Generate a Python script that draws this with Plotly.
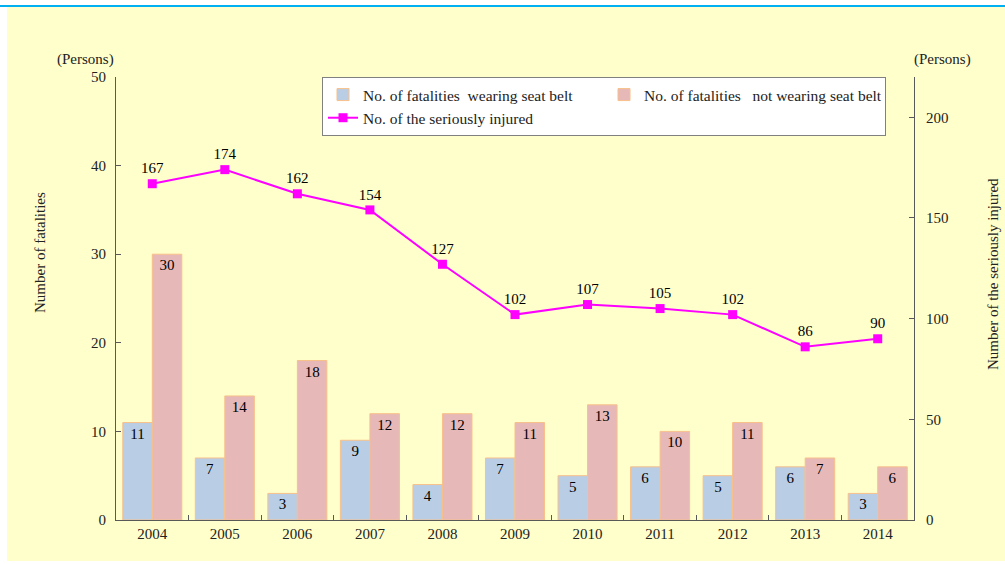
import plotly.graph_objects as go

years = ["2004", "2005", "2006", "2007", "2008", "2009", "2010", "2011", "2012", "2013", "2014"]
wearing = [11, 7, 3, 9, 4, 7, 5, 6, 5, 6, 3]
not_wearing = [30, 14, 18, 12, 12, 11, 13, 10, 11, 7, 6]
injured = [167, 174, 162, 154, 127, 102, 107, 105, 102, 86, 90]

FONT = "Liberation Serif, Times New Roman, serif"
W, H = 1005, 564
L, R, T, B = 116, 91, 77, 44
pw, ph = W - L - R, H - T - B

def px(x):
    return (x - L) / pw

def py(y):
    return (H - B - y) / ph

fig = go.Figure()
fig.add_trace(go.Bar(
    x=years, y=wearing, name="No. of fatalities\u00a0\u00a0wearing seat belt",
    marker=dict(color="#B9CDE5", line=dict(color="#F8C08A", width=1)),
    text=wearing, textposition="inside", insidetextanchor="end", textangle=0,
    constraintext="none", textfont=dict(size=15, color="black", family=FONT),
))
fig.add_trace(go.Bar(
    x=years, y=not_wearing, name="No. of fatalities\u00a0\u00a0\u00a0not wearing seat belt",
    marker=dict(color="#E6B9B8", line=dict(color="#F8C08A", width=1)),
    text=not_wearing, textposition="inside", insidetextanchor="end", textangle=0,
    constraintext="none", textfont=dict(size=15, color="black", family=FONT),
))
fig.add_trace(go.Scatter(
    x=years, y=injured, name="No. of the seriously injured", yaxis="y2",
    mode="lines+markers+text",
    line=dict(color="#FF00FF", width=2),
    marker=dict(symbol="square", size=9, color="#FF00FF"),
    text=injured, textposition="top center",
    textfont=dict(size=15, color="black", family=FONT),
))

axis_common = dict(showline=True, linecolor="#595959", linewidth=1, ticks="inside",
                   tickcolor="#595959", ticklen=5, showgrid=False, zeroline=False,
                   tickfont=dict(size=15, color="#222", family=FONT))

ann_font = dict(size=15, family=FONT, color="#222")

fig.update_layout(
    width=W, height=H,
    margin=dict(l=L, r=R, t=T, b=B),
    paper_bgcolor="white", plot_bgcolor="rgba(0,0,0,0)",
    font=dict(family=FONT, size=15, color="#222"),
    barmode="group", bargap=0.186, bargroupgap=0,
    xaxis=dict(type="category", tickson="boundaries", range=[-0.5, 10.5], **axis_common),
    yaxis=dict(range=[0, 50], dtick=10, ticklabelstandoff=6, **axis_common),
    yaxis2=dict(range=[0, 220], dtick=50, overlaying="y", side="right",
                ticklabelstandoff=8, **axis_common),
    legend=dict(orientation="h", x=px(322), y=py(77), xanchor="left", yanchor="top",
                bgcolor="white", bordercolor="#808080", borderwidth=1,
                entrywidth=236, font=dict(size=15.5, family=FONT, color="#222"),
                traceorder="normal", tracegroupgap=0),
    showlegend=True,
    shapes=[
        dict(type="rect", xref="paper", yref="paper", x0=px(7), x1=px(1006),
             y0=py(561), y1=py(7), fillcolor="#FFFFCC", line=dict(width=0), layer="below"),
        dict(type="line", xref="paper", yref="paper", x0=px(0), x1=px(1006),
             y0=py(6), y1=py(6), line=dict(color="#00B0F0", width=2)),
    ],
    annotations=[
        dict(text="(Persons)", xref="paper", yref="paper", x=px(85), y=py(60),
             xanchor="center", yanchor="middle", showarrow=False, font=ann_font),
        dict(text="(Persons)", xref="paper", yref="paper", x=px(942), y=py(60),
             xanchor="center", yanchor="middle", showarrow=False, font=ann_font),
        dict(text="Number of fatalities", xref="paper", yref="paper", x=px(40), y=py(253),
             xanchor="center", yanchor="middle", textangle=-90, showarrow=False, font=ann_font),
        dict(text="Number of the seriously injured", xref="paper", yref="paper",
             x=px(993), y=py(274), xanchor="center", yanchor="middle",
             textangle=-90, showarrow=False, font=ann_font),
    ],
)

fig.write_html("out.html", config={"displayModeBar": False})

with open("out.html", "r", encoding="utf-8") as f:
    html = f.read()
html = html.replace("<head>", "<head><style>html,body{margin:0;padding:0;overflow:hidden;}</style>", 1)
with open("out.html", "w", encoding="utf-8") as f:
    f.write(html)
